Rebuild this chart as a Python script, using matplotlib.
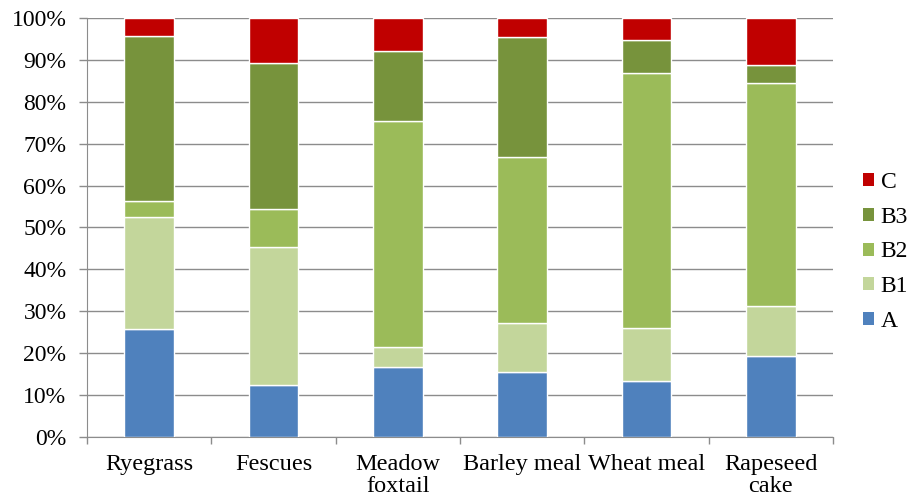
import matplotlib
matplotlib.use("Agg")
import matplotlib.pyplot as plt
import numpy as np
from matplotlib.patches import Patch

categories = ["Ryegrass", "Fescues", "Meadow\nfoxtail", "Barley meal", "Wheat meal", "Rapeseed\ncake"]
A  = [25.7, 12.4, 16.6, 15.5, 13.3, 19.3]
B1 = [26.7, 32.9,  4.9, 11.6, 12.7, 11.9]
B2 = [ 3.9,  9.0, 53.8, 39.7, 60.9, 53.4]
B3 = [39.5, 35.0, 16.9, 28.7,  7.9,  4.1]
C  = [ 4.2, 10.7,  7.8,  4.5,  5.2, 11.3]

series = [("A", A, "#4F81BD"), ("B1", B1, "#C3D69B"), ("B2", B2, "#9BBB59"),
          ("B3", B3, "#77933C"), ("C", C, "#C00000")]

plt.rcParams["font.family"] = ["Liberation Serif", "DejaVu Serif"]

fig = plt.figure(figsize=(9.08, 4.98), dpi=100)
ax = fig.add_axes([0.0958, 0.1225, 0.8216, 0.8414])

x = np.arange(len(categories))
bottom = np.zeros(len(categories))
for name, vals, col in series:
    v = np.array(vals)
    ax.bar(x, v, bottom=bottom, width=0.40, color=col, edgecolor="white",
           linewidth=1.0, zorder=3)
    bottom += v

ax.set_xlim(-0.5, len(categories) - 0.5)
ax.set_ylim(0, 100)
ax.set_yticks(np.arange(0, 101, 10))
ax.set_yticklabels([f"{t}%" for t in range(0, 101, 10)], fontsize=17)
ax.yaxis.grid(True, color="#8c8c8c", linewidth=1.0, zorder=0)
ax.tick_params(axis="y", length=5.8, width=1, color="#8c8c8c", pad=9)

ax.set_xticks(x)
ax.set_xticklabels(categories, fontsize=17.5, linespacing=1.08)
ax.tick_params(axis="x", length=0, pad=12)
# boundary ticks between categories
ax.set_xticks(np.arange(-0.5, len(categories), 1.0), minor=True)
ax.tick_params(axis="x", which="minor", length=5, color="#8c8c8c", width=1)

for s in ["top", "right"]:
    ax.spines[s].set_visible(False)
ax.spines["left"].set_color("#8c8c8c")
ax.spines["bottom"].set_color("#8c8c8c")

handles = [Patch(facecolor=col, edgecolor="none", label=name) for name, _, col in series][::-1]
fig.legend(handles=handles, loc="center left", bbox_to_anchor=(0.950, 0.494),
           frameon=False, fontsize=17, handlelength=0.47, handleheight=0.47,
           handletextpad=0.3, labelspacing=0.58, borderpad=0, borderaxespad=0)

fig.savefig("out.png", dpi=100)
